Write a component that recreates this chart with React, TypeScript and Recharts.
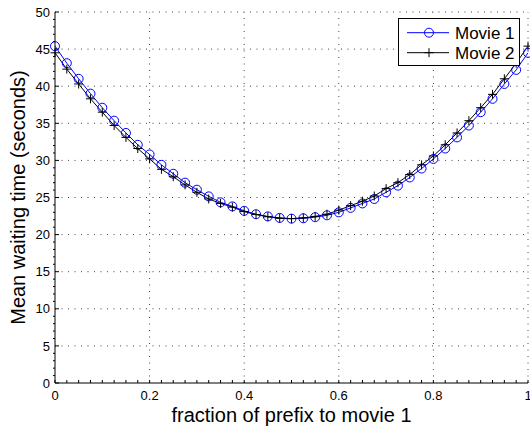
import React from 'react';
import { LineChart, Line, XAxis, YAxis, ReferenceLine, Legend } from 'recharts';

const xValues = [
  0, 0.025, 0.05, 0.075, 0.1, 0.125, 0.15, 0.175, 0.2, 0.225,
  0.25, 0.275, 0.3, 0.325, 0.35, 0.375, 0.4, 0.425, 0.45, 0.475,
  0.5, 0.525, 0.55, 0.575, 0.6, 0.625, 0.65, 0.675, 0.7, 0.725,
  0.75, 0.775, 0.8, 0.825, 0.85, 0.875, 0.9, 0.925, 0.95, 0.975, 1,
];

const movie1 = [
  45.4, 43.1, 41.0, 39.0, 37.1, 35.35, 33.7, 32.1, 30.8, 29.4,
  28.2, 27.0, 26.05, 25.15, 24.35, 23.8, 23.2, 22.75, 22.45, 22.25,
  22.15, 22.2, 22.35, 22.6, 23.0, 23.6, 24.2, 24.8, 25.7, 26.6,
  27.7, 28.9, 30.2, 31.6, 33.1, 34.7, 36.5, 38.3, 40.3, 42.2, 44.5,
];

const movie2 = [
  44.5, 42.3, 40.3, 38.3, 36.5, 34.7, 33.1, 31.6, 30.2, 28.8,
  27.8, 26.7, 25.7, 24.8, 24.2, 23.7, 23.1, 22.7, 22.4, 22.2,
  22.15, 22.25, 22.45, 22.75, 23.3, 23.9, 24.5, 25.2, 26.2, 27.0,
  28.1, 29.4, 30.6, 32.1, 33.7, 35.35, 37.1, 38.9, 41.0, 43.1, 45.4,
];

const xTickLabels = ['0', '0.2', '0.4', '0.6', '0.8', '1'];
const xLabelValues = [0, 0.2, 0.4, 0.6, 0.8, 1];
const yMajorValues = [0, 5, 10, 15, 20, 25, 30, 35, 40, 45, 50];
const yTickLabels = ['0', '5', '10', '15', '20', '25', '30', '35', '40', '45', '50'];
const yMinorTicks = Array.from({ length: 51 }, (_, i) => i);
const xGridValues = [0.2, 0.4, 0.6, 0.8, 1];
const yGridValues = [5, 10, 15, 20, 25, 30, 35, 40, 45, 50];

const seriesNames = ['Movie 1', 'Movie 2'];

const data = xValues.map((x, i) => ({ x, m1: movie1[i], m2: movie2[i] }));

const FONT = 'Liberation Sans, Arial, Helvetica, sans-serif';

const XTick = (props: any) => {
  const { x, y, payload } = props;
  const v = payload.value;
  const li = xLabelValues.findIndex((lv) => Math.abs(lv - v) < 1e-6);
  return (
    <g>
      <line x1={x} y1={y} x2={x} y2={y - 3} stroke="#000" strokeWidth={1} />
      {li >= 0 && (
        <text x={x} y={y + 17} textAnchor="middle" fontSize={13} fontFamily={FONT} fill="#000">
          {xTickLabels[li]}
        </text>
      )}
    </g>
  );
};

const YTick = (props: any) => {
  const { x, y, payload } = props;
  const v = payload.value;
  const li = yMajorValues.findIndex((lv) => Math.abs(lv - v) < 1e-6);
  return (
    <g>
      {li >= 0 ? (
        <line x1={x} y1={y} x2={x + 4} y2={y} stroke="#000" strokeWidth={1} />
      ) : (
        <line x1={x} y1={y} x2={x - 2} y2={y} stroke="#000" strokeWidth={1} />
      )}
      {li >= 0 && (
        <text x={x - 5} y={y + 4.6} textAnchor="end" fontSize={13} fontFamily={FONT} fill="#000">
          {yTickLabels[li]}
        </text>
      )}
    </g>
  );
};

const PlusDot = (props: any) => {
  const { cx, cy, index } = props;
  if (cx == null || cy == null) return <g key={`pd-${index}`} />;
  return (
    <path
      key={`pd-${index}`}
      d={`M${cx - 4.5},${cy}H${cx + 4.5}M${cx},${cy - 4.5}V${cy + 4.5}`}
      stroke="#000"
      strokeWidth={1}
      fill="none"
    />
  );
};

const LegendBox = () => (
  <div
    style={{
      width: 122,
      height: 48,
      border: '1px solid #000',
      background: '#fff',
      boxSizing: 'border-box',
    }}
  >
    <svg width={120} height={46} style={{ display: 'block' }}>
      <line x1={8} y1={13.7} x2={50} y2={13.7} stroke="#0000ff" strokeWidth={1} />
      <circle cx={30} cy={13.7} r={4.5} stroke="#0000ff" fill="none" strokeWidth={1} />
      <text x={56} y={19.5} fontSize={17} fontFamily={FONT} fill="#000">
        {seriesNames[0]}
      </text>
      <line x1={8} y1={33.7} x2={50} y2={33.7} stroke="#000" strokeWidth={1} />
      <path d="M25.5,33.7H34.5M30,29.2V38.2" stroke="#000" strokeWidth={1} fill="none" />
      <text x={56} y={39.5} fontSize={17} fontFamily={FONT} fill="#000">
        {seriesNames[1]}
      </text>
    </svg>
  </div>
);

const YLabel = (props: any) => {
  const vb = props.viewBox || {};
  const cx = 25;
  const cy = (vb.y ?? 12) + (vb.height ?? 371) / 2;
  return (
    <text
      x={cx}
      y={cy}
      transform={`rotate(-90 ${cx} ${cy})`}
      textAnchor="middle"
      fontSize={20}
      fontFamily={FONT}
      fill="#000"
    >
      Mean waiting time (seconds)
    </text>
  );
};

const XLabel = (props: any) => {
  const vb = props.viewBox || {};
  const cx = (vb.x ?? 55) + (vb.width ?? 473) / 2;
  return (
    <text x={cx} y={422} textAnchor="middle" fontSize={20} fontFamily={FONT} fill="#000">
      fraction of prefix to movie 1
    </text>
  );
};

export default function App() {
  return (
    <div style={{ position: 'absolute', left: 0, top: 0, width: 530, height: 427, background: '#fff' }}>
      <LineChart
        width={530}
        height={427}
        data={data}
        margin={{ top: 12, right: 2, bottom: 0, left: 0 }}
      >
        <XAxis
          dataKey="x"
          type="number"
          domain={[0, 1]}
          ticks={xValues}
          interval={0}
          tickSize={0}
          tickMargin={0}
          tickLine={false}
          tick={<XTick />}
          axisLine={{ stroke: '#000', strokeWidth: 1 }}
          height={44}
          label={<XLabel />}
        />
        <YAxis
          type="number"
          domain={[0, 50]}
          ticks={yMinorTicks}
          interval={0}
          tickSize={0}
          tickMargin={0}
          tickLine={false}
          tick={<YTick />}
          axisLine={{ stroke: '#000', strokeWidth: 1 }}
          width={55}
          label={<YLabel />}
        />
        {yGridValues.map((v) => (
          <ReferenceLine key={`gy-${v}`} y={v} stroke="#444" strokeDasharray="1 5.5" strokeWidth={1} />
        ))}
        {xGridValues.map((v) => (
          <ReferenceLine key={`gx-${v}`} x={v} stroke="#444" strokeDasharray="1 5.5" strokeWidth={1} />
        ))}
        <Line
          dataKey="m1"
          name={seriesNames[0]}
          stroke="#0000ff"
          strokeWidth={1}
          dot={{ r: 4.5, stroke: '#0000ff', fill: 'none', strokeWidth: 1 }}
          activeDot={false}
          isAnimationActive={false}
        />
        <Line
          dataKey="m2"
          name={seriesNames[1]}
          stroke="#000"
          strokeWidth={1}
          dot={PlusDot}
          activeDot={false}
          isAnimationActive={false}
        />
        <Legend
          layout="vertical"
          align="center"
          verticalAlign="middle"
          wrapperStyle={{ left: 398, top: 18, width: 122, height: 48 }}
          content={<LegendBox />}
        />
      </LineChart>
    </div>
  );
}
